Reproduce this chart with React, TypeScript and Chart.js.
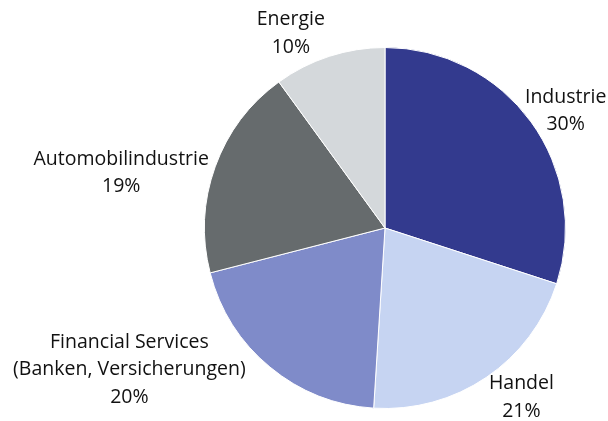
import React, { useEffect, useRef } from "react";
import { Chart, registerables } from "chart.js";

Chart.register(...registerables);

const categories: string[][] = [
  ["Industrie"],
  ["Handel"],
  ["Financial Services", "(Banken, Versicherungen)"],
  ["Automobilindustrie"],
  ["Energie"],
];
const shares: number[] = [30, 21, 20, 19, 10];
const colors: string[] = ["#333a8e", "#c6d4f2", "#7f8bc9", "#666b6d", "#d4d8db"];

const FONT = "19.5px 'Open Sans', sans-serif";
const LINE_H = 27.5;

// label placement: angle from 12 o'clock (deg, clockwise) and distance as multiple of radius
const labelPlacement: [number, number][] = [
  [56.8, 1.196],
  [141.0, 1.201],
  [241.2, 1.616],
  [282.0, 1.494],
  [334.3, 1.203],
];

const labelPlugin = {
  id: "outsideLabels",
  afterDraw(chart: any) {
    const ctx = chart.ctx;
    const meta = chart.getDatasetMeta(0);
    ctx.save();
    ctx.font = FONT;
    ctx.fillStyle = "#111111";
    ctx.textAlign = "center";
    ctx.textBaseline = "middle";
    meta.data.forEach((arc: any, i: number) => {
      const { x, y, outerRadius } = arc.getProps(["x", "y", "outerRadius"], true);
      const [deg, f] = labelPlacement[i];
      const a = (deg * Math.PI) / 180;
      const R = 180 * f * (outerRadius / 180);
      const cx = x + Math.sin(a) * R;
      const cy = y - Math.cos(a) * R;
      const lines = [...categories[i], shares[i] + "%"];
      const h = lines.length * LINE_H;
      lines.forEach((l, k) => {
        ctx.fillText(l, cx, cy - h / 2 + LINE_H * (k + 0.5) + 1);
      });
    });
    ctx.restore();
  },
};

export default function App() {
  const ref = useRef<HTMLCanvasElement | null>(null);
  useEffect(() => {
    document.body.style.margin = "0";
    const chart = new Chart(ref.current!, {
      type: "pie",
      data: {
        labels: categories.map((c) => c.join(" ")),
        datasets: [
          {
            data: shares,
            backgroundColor: colors,
            borderColor: "#ffffff",
            borderWidth: 1,
          },
        ],
      },
      options: {
        responsive: false,
        animation: false,
        layout: { padding: { top: 47, bottom: 12, left: 204, right: 42 } },
        plugins: { legend: { display: false }, tooltip: { enabled: false } },
      },
      plugins: [labelPlugin],
    });
    return () => chart.destroy();
  }, []);
  return (
    <div style={{ width: 608, height: 421 }}>
      <canvas ref={ref} width={608} height={421} />
    </div>
  );
}
